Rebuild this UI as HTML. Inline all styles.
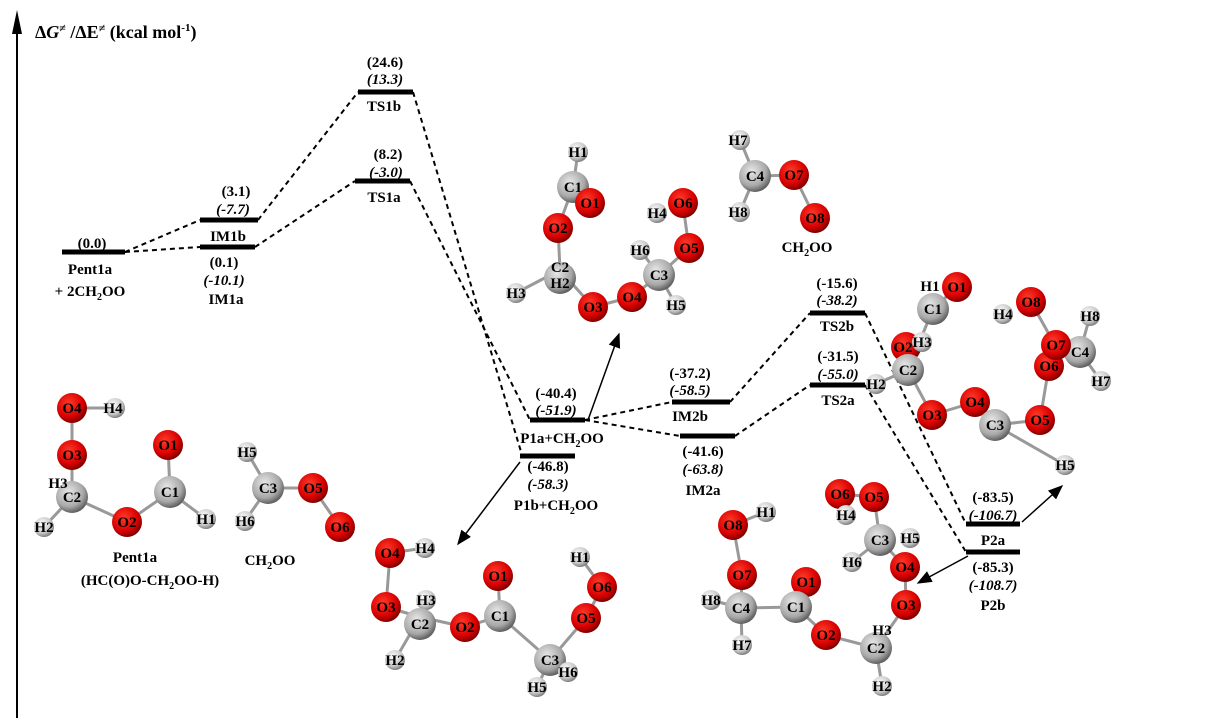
<!DOCTYPE html>
<html><head><meta charset="utf-8"><style>
html,body{margin:0;padding:0;background:#fff;}
svg{display:block;}
.t{font-family:"Liberation Serif",serif;font-weight:bold;font-size:15px;text-anchor:middle;fill:#000;}
.i{font-style:italic;}
.a{font-family:"Liberation Serif",serif;font-weight:bold;font-size:15px;text-anchor:middle;fill:#000;}
.d{stroke:#000;stroke-width:2;stroke-dasharray:5,4;fill:none;}
.lv{stroke:#000;stroke-width:5;}
.b{stroke:#999;stroke-width:3;}
</style></head><body>
<svg width="1229" height="726" viewBox="0 0 1229 726" xmlns="http://www.w3.org/2000/svg">
<defs>
<radialGradient id="gO" cx="40%" cy="35%" r="65%"><stop offset="0" stop-color="#ff3a2a"/><stop offset="0.7" stop-color="#d80000"/><stop offset="1" stop-color="#800000"/></radialGradient>
<radialGradient id="gC" cx="40%" cy="35%" r="65%"><stop offset="0" stop-color="#e8e8e8"/><stop offset="0.7" stop-color="#a8a8a8"/><stop offset="1" stop-color="#606060"/></radialGradient>
<radialGradient id="gH" cx="40%" cy="35%" r="65%"><stop offset="0" stop-color="#ffffff"/><stop offset="0.7" stop-color="#c8c8c8"/><stop offset="1" stop-color="#808080"/></radialGradient>
<marker id="ar" markerWidth="10" markerHeight="10" refX="9" refY="5" orient="auto"><path d="M0,1 L10,5 L0,9 Z" fill="#000"/></marker>
</defs>
<line x1="17" y1="718" x2="17" y2="22" stroke="#000" stroke-width="2"/>
<path d="M17,10 L12,34 L22,34 Z" fill="#000"/>
<text x="35" y="38" font-family="Liberation Serif,serif" font-weight="bold" font-size="18">Δ<tspan font-style="italic">G</tspan><tspan font-size="12" dy="-6">≠</tspan><tspan dy="6"> /ΔE</tspan><tspan font-size="12" dy="-6">≠</tspan><tspan dy="6">  (kcal mol</tspan><tspan font-size="11" dy="-7">-1</tspan><tspan dy="7">)</tspan></text>

<path class="d" d="M125,252 L200,220"/>
<path class="d" d="M125,252 L200,247"/>
<path class="d" d="M258,220 L358,92"/>
<path class="d" d="M255,247 L355,181"/>
<path class="d" d="M413,92 L522,455"/>
<path class="d" d="M410,181 L530,420"/>
<path class="d" d="M585,420 L672,402"/>
<path class="d" d="M585,420 L680,436"/>
<path class="d" d="M730,402 L810,313"/>
<path class="d" d="M735,436 L810,385"/>
<path class="d" d="M865,313 L966,524"/>
<path class="d" d="M865,385 L966,552"/>

<line class="lv" x1="62" y1="252" x2="125" y2="252"/>
<line class="lv" x1="200" y1="220" x2="258" y2="220"/>
<line class="lv" x1="200" y1="247" x2="255" y2="247"/>
<line class="lv" x1="358" y1="92" x2="413" y2="92"/>
<line class="lv" x1="355" y1="181" x2="410" y2="181"/>
<line class="lv" x1="530" y1="420" x2="585" y2="420"/>
<line class="lv" x1="520" y1="456" x2="575" y2="456"/>
<line class="lv" x1="672" y1="402" x2="730" y2="402"/>
<line class="lv" x1="680" y1="436" x2="735" y2="436"/>
<line class="lv" x1="810" y1="313" x2="865" y2="313"/>
<line class="lv" x1="810" y1="385" x2="865" y2="385"/>
<line class="lv" x1="966" y1="524" x2="1020" y2="524"/>
<line class="lv" x1="966" y1="552" x2="1020" y2="552"/>

<text class="t" x="92" y="248">(0.0)</text>
<text class="t" x="90" y="274">Pent1a</text>
<text class="t" x="90" y="296">+ 2CH<tspan font-size="10" dy="4">2</tspan><tspan dy="-4">OO</tspan></text>
<text class="t" x="236" y="196">(3.1)</text>
<text class="t i" x="233" y="214">(-7.7)</text>
<text class="t" x="228" y="241">IM1b</text>
<text class="t" x="224" y="267">(0.1)</text>
<text class="t i" x="224" y="285">(-10.1)</text>
<text class="t" x="226" y="304">IM1a</text>
<text class="t" x="385" y="67">(24.6)</text>
<text class="t i" x="385" y="84">(13.3)</text>
<text class="t" x="384" y="111">TS1b</text>
<text class="t" x="388" y="159">(8.2)</text>
<text class="t i" x="386" y="177">(-3.0)</text>
<text class="t" x="384" y="202">TS1a</text>
<text class="t" x="556" y="398">(-40.4)</text>
<text class="t i" x="556" y="415">(-51.9)</text>
<text class="t" x="562" y="443">P1a+CH<tspan font-size="10" dy="4">2</tspan><tspan dy="-4">OO</tspan></text>
<text class="t" x="548" y="471">(-46.8)</text>
<text class="t i" x="548" y="489">(-58.3)</text>
<text class="t" x="556" y="510">P1b+CH<tspan font-size="10" dy="4">2</tspan><tspan dy="-4">OO</tspan></text>
<text class="t" x="690" y="378">(-37.2)</text>
<text class="t i" x="690" y="395">(-58.5)</text>
<text class="t" x="690" y="421">IM2b</text>
<text class="t" x="703" y="456">(-41.6)</text>
<text class="t i" x="703" y="474">(-63.8)</text>
<text class="t" x="703" y="495">IM2a</text>
<text class="t" x="837" y="288">(-15.6)</text>
<text class="t i" x="837" y="305">(-38.2)</text>
<text class="t" x="837" y="331">TS2b</text>
<text class="t" x="838" y="361">(-31.5)</text>
<text class="t i" x="838" y="379">(-55.0)</text>
<text class="t" x="838" y="405">TS2a</text>
<text class="t" x="993" y="502">(-83.5)</text>
<text class="t i" x="993" y="520">(-106.7)</text>
<text class="t" x="993" y="545">P2a</text>
<text class="t" x="993" y="572">(-85.3)</text>
<text class="t i" x="993" y="590">(-108.7)</text>
<text class="t" x="993" y="610">P2b</text>

<line x1="588" y1="420" x2="619" y2="334" stroke="#000" stroke-width="1.5" marker-end="url(#ar)"/>
<line x1="520" y1="462" x2="458" y2="544" stroke="#000" stroke-width="1.5" marker-end="url(#ar)"/>
<line x1="1022" y1="522" x2="1062" y2="486" stroke="#000" stroke-width="1.5" marker-end="url(#ar)"/>
<line x1="968" y1="556" x2="918" y2="583" stroke="#000" stroke-width="1.5" marker-end="url(#ar)"/>

<g class="b">
<line x1="72" y1="408" x2="115" y2="408"/><line x1="72" y1="408" x2="72" y2="455"/><line x1="72" y1="455" x2="72" y2="497"/>
<line x1="72" y1="497" x2="44" y2="527"/><line x1="72" y1="497" x2="127" y2="522"/><line x1="127" y1="522" x2="170" y2="492"/>
<line x1="170" y1="492" x2="168" y2="445"/><line x1="170" y1="492" x2="206" y2="519"/>
<line x1="247" y1="452" x2="268" y2="488"/><line x1="268" y1="488" x2="313" y2="488"/><line x1="313" y1="488" x2="340" y2="527"/><line x1="268" y1="488" x2="245" y2="521"/>
<line x1="578" y1="152" x2="573" y2="187"/><line x1="573" y1="187" x2="558" y2="228"/><line x1="558" y1="228" x2="560" y2="270"/>
<line x1="560" y1="270" x2="516" y2="293"/><line x1="560" y1="270" x2="593" y2="307"/><line x1="593" y1="307" x2="632" y2="297"/>
<line x1="632" y1="297" x2="659" y2="275"/><line x1="659" y1="275" x2="676" y2="305"/><line x1="659" y1="275" x2="640" y2="250"/>
<line x1="659" y1="275" x2="689" y2="248"/><line x1="689" y1="248" x2="683" y2="205"/>
<line x1="740" y1="140" x2="755" y2="176"/><line x1="755" y1="176" x2="794" y2="175"/><line x1="794" y1="175" x2="815" y2="218"/><line x1="755" y1="176" x2="740" y2="212"/>
<line x1="933" y1="309" x2="957" y2="287"/><line x1="933" y1="309" x2="908" y2="370"/><line x1="908" y1="370" x2="876" y2="384"/>
<line x1="908" y1="370" x2="932" y2="415"/><line x1="932" y1="415" x2="975" y2="402"/><line x1="975" y1="402" x2="995" y2="425"/>
<line x1="995" y1="425" x2="1040" y2="420"/><line x1="1040" y1="420" x2="1049" y2="366"/><line x1="1031" y1="302" x2="1055" y2="345"/>
<line x1="1080" y1="352" x2="1090" y2="316"/><line x1="1080" y1="352" x2="1101" y2="381"/><line x1="995" y1="425" x2="1065" y2="465"/>
<line x1="390" y1="553" x2="425" y2="548"/><line x1="390" y1="553" x2="386" y2="607"/><line x1="386" y1="607" x2="420" y2="617"/>
<line x1="420" y1="617" x2="395" y2="660"/><line x1="420" y1="617" x2="465" y2="627"/><line x1="465" y1="627" x2="500" y2="616"/>
<line x1="500" y1="616" x2="498" y2="576"/><line x1="500" y1="616" x2="550" y2="660"/><line x1="550" y1="660" x2="537" y2="687"/>
<line x1="550" y1="660" x2="568" y2="672"/><line x1="550" y1="660" x2="586" y2="618"/><line x1="586" y1="618" x2="602" y2="587"/><line x1="602" y1="587" x2="580" y2="557"/>
<line x1="733" y1="525" x2="766" y2="512"/><line x1="733" y1="525" x2="742" y2="575"/><line x1="742" y1="575" x2="741" y2="608"/>
<line x1="741" y1="608" x2="711" y2="600"/><line x1="741" y1="608" x2="742" y2="645"/><line x1="741" y1="608" x2="796" y2="607"/>
<line x1="796" y1="607" x2="806" y2="582"/><line x1="796" y1="607" x2="826" y2="635"/><line x1="826" y1="635" x2="876" y2="648"/>
<line x1="876" y1="648" x2="882" y2="686"/><line x1="876" y1="648" x2="906" y2="605"/><line x1="906" y1="605" x2="905" y2="567"/>
<line x1="905" y1="567" x2="880" y2="540"/><line x1="880" y1="540" x2="852" y2="562"/><line x1="880" y1="540" x2="874" y2="497"/><line x1="874" y1="497" x2="840" y2="494"/>
</g>

<g>
<circle cx="72" cy="408" r="15" fill="url(#gO)"/><text class="a" x="72" y="413">O4</text>
<circle cx="115" cy="408" r="10" fill="url(#gH)"/><text class="a" x="113" y="413">H4</text>
<circle cx="72" cy="455" r="15" fill="url(#gO)"/><text class="a" x="72" y="460">O3</text>
<circle cx="72" cy="497" r="16" fill="url(#gC)"/><text class="a" x="72" y="502">C2</text>
<text class="a" x="58" y="488">H3</text>
<circle cx="44" cy="527" r="10" fill="url(#gH)"/><text class="a" x="44" y="532">H2</text>
<circle cx="127" cy="522" r="15" fill="url(#gO)"/><text class="a" x="127" y="527">O2</text>
<circle cx="170" cy="492" r="16" fill="url(#gC)"/><text class="a" x="170" y="497">C1</text>
<circle cx="168" cy="445" r="15" fill="url(#gO)"/><text class="a" x="168" y="450">O1</text>
<circle cx="206" cy="519" r="10" fill="url(#gH)"/><text class="a" x="206" y="524">H1</text>
<text class="t" x="135" y="562">Pent1a</text>
<text class="t" x="150" y="585">(HC(O)O-CH<tspan font-size="10" dy="4">2</tspan><tspan dy="-4">OO-H)</tspan></text>
</g>
<g>
<circle cx="247" cy="452" r="10" fill="url(#gH)"/><text class="a" x="247" y="457">H5</text>
<circle cx="268" cy="488" r="16" fill="url(#gC)"/><text class="a" x="268" y="493">C3</text>
<circle cx="313" cy="488" r="15" fill="url(#gO)"/><text class="a" x="313" y="493">O5</text>
<circle cx="340" cy="527" r="15" fill="url(#gO)"/><text class="a" x="340" y="532">O6</text>
<circle cx="245" cy="521" r="10" fill="url(#gH)"/><text class="a" x="245" y="526">H6</text>
<text class="t" x="270" y="565">CH<tspan font-size="10" dy="4">2</tspan><tspan dy="-4">OO</tspan></text>
</g>
<g>
<circle cx="578" cy="152" r="10" fill="url(#gH)"/><text class="a" x="578" y="157">H1</text>
<circle cx="573" cy="187" r="16" fill="url(#gC)"/><text class="a" x="573" y="192">C1</text>
<circle cx="590" cy="203" r="15" fill="url(#gO)"/><text class="a" x="590" y="208">O1</text>
<circle cx="558" cy="228" r="15" fill="url(#gO)"/><text class="a" x="558" y="233">O2</text>
<circle cx="560" cy="278" r="16" fill="url(#gC)"/><text class="a" x="560" y="272">C2</text><text class="a" x="560" y="288">H2</text>
<circle cx="516" cy="293" r="10" fill="url(#gH)"/><text class="a" x="516" y="298">H3</text>
<circle cx="593" cy="307" r="15" fill="url(#gO)"/><text class="a" x="593" y="312">O3</text>
<circle cx="632" cy="297" r="15" fill="url(#gO)"/><text class="a" x="632" y="302">O4</text>
<circle cx="659" cy="275" r="16" fill="url(#gC)"/><text class="a" x="659" y="280">C3</text>
<circle cx="676" cy="305" r="10" fill="url(#gH)"/><text class="a" x="676" y="310">H5</text>
<circle cx="640" cy="250" r="10" fill="url(#gH)"/><text class="a" x="640" y="255">H6</text>
<circle cx="689" cy="248" r="15" fill="url(#gO)"/><text class="a" x="689" y="253">O5</text>
<circle cx="657" cy="213" r="10" fill="url(#gH)"/><text class="a" x="657" y="218">H4</text>
<circle cx="683" cy="203" r="15" fill="url(#gO)"/><text class="a" x="683" y="208">O6</text>
</g>
<g>
<circle cx="740" cy="140" r="10" fill="url(#gH)"/><text class="a" x="738" y="145">H7</text>
<circle cx="755" cy="176" r="16" fill="url(#gC)"/><text class="a" x="755" y="181">C4</text>
<circle cx="794" cy="175" r="15" fill="url(#gO)"/><text class="a" x="794" y="180">O7</text>
<circle cx="815" cy="218" r="15" fill="url(#gO)"/><text class="a" x="815" y="223">O8</text>
<circle cx="740" cy="212" r="10" fill="url(#gH)"/><text class="a" x="738" y="217">H8</text>
<text class="t" x="807" y="252">CH<tspan font-size="10" dy="4">2</tspan><tspan dy="-4">OO</tspan></text>
</g>
<g>
<circle cx="957" cy="287" r="15" fill="url(#gO)"/><text class="a" x="957" y="292">O1</text>
<circle cx="933" cy="309" r="16" fill="url(#gC)"/><text class="a" x="933" y="314">C1</text>
<text class="a" x="930" y="291">H1</text>
<circle cx="906" cy="347" r="15" fill="url(#gO)"/><text class="a" x="903" y="352">O2</text>
<circle cx="922" cy="342" r="10" fill="url(#gH)"/><text class="a" x="922" y="347">H3</text>
<circle cx="908" cy="370" r="16" fill="url(#gC)"/><text class="a" x="908" y="375">C2</text>
<circle cx="876" cy="384" r="10" fill="url(#gH)"/><text class="a" x="876" y="389">H2</text>
<circle cx="932" cy="415" r="15" fill="url(#gO)"/><text class="a" x="932" y="420">O3</text>
<circle cx="975" cy="402" r="15" fill="url(#gO)"/><text class="a" x="975" y="407">O4</text>
<circle cx="995" cy="425" r="16" fill="url(#gC)"/><text class="a" x="995" y="430">C3</text>
<circle cx="1040" cy="420" r="15" fill="url(#gO)"/><text class="a" x="1040" y="425">O5</text>
<circle cx="1065" cy="465" r="10" fill="url(#gH)"/><text class="a" x="1065" y="470">H5</text>
<circle cx="1031" cy="302" r="15" fill="url(#gO)"/><text class="a" x="1031" y="307">O8</text>
<circle cx="1003" cy="314" r="10" fill="url(#gH)"/><text class="a" x="1003" y="319">H4</text>
<circle cx="1080" cy="352" r="16" fill="url(#gC)"/><text class="a" x="1080" y="357">C4</text>
<circle cx="1049" cy="366" r="15" fill="url(#gO)"/><text class="a" x="1049" y="371">O6</text>
<circle cx="1056" cy="345" r="15" fill="url(#gO)"/><text class="a" x="1056" y="350">O7</text>
<circle cx="1090" cy="316" r="10" fill="url(#gH)"/><text class="a" x="1090" y="321">H8</text>
<circle cx="1101" cy="381" r="10" fill="url(#gH)"/><text class="a" x="1101" y="386">H7</text>
</g>
<g>
<circle cx="390" cy="553" r="15" fill="url(#gO)"/><text class="a" x="390" y="558">O4</text>
<circle cx="425" cy="548" r="10" fill="url(#gH)"/><text class="a" x="425" y="553">H4</text>
<circle cx="386" cy="607" r="15" fill="url(#gO)"/><text class="a" x="386" y="612">O3</text>
<circle cx="426" cy="600" r="10" fill="url(#gH)"/><text class="a" x="426" y="605">H3</text>
<circle cx="420" cy="624" r="16" fill="url(#gC)"/><text class="a" x="420" y="629">C2</text>
<circle cx="395" cy="660" r="10" fill="url(#gH)"/><text class="a" x="395" y="665">H2</text>
<circle cx="465" cy="627" r="15" fill="url(#gO)"/><text class="a" x="465" y="632">O2</text>
<circle cx="500" cy="616" r="16" fill="url(#gC)"/><text class="a" x="500" y="621">C1</text>
<circle cx="498" cy="576" r="15" fill="url(#gO)"/><text class="a" x="498" y="581">O1</text>
<circle cx="550" cy="660" r="16" fill="url(#gC)"/><text class="a" x="550" y="665">C3</text>
<circle cx="537" cy="687" r="10" fill="url(#gH)"/><text class="a" x="537" y="692">H5</text>
<circle cx="568" cy="672" r="10" fill="url(#gH)"/><text class="a" x="568" y="677">H6</text>
<circle cx="586" cy="618" r="15" fill="url(#gO)"/><text class="a" x="586" y="623">O5</text>
<circle cx="602" cy="587" r="15" fill="url(#gO)"/><text class="a" x="602" y="592">O6</text>
<circle cx="580" cy="557" r="10" fill="url(#gH)"/><text class="a" x="580" y="562">H1</text>
</g>
<g>
<circle cx="733" cy="525" r="15" fill="url(#gO)"/><text class="a" x="733" y="530">O8</text>
<circle cx="766" cy="512" r="10" fill="url(#gH)"/><text class="a" x="766" y="517">H1</text>
<circle cx="742" cy="575" r="15" fill="url(#gO)"/><text class="a" x="742" y="580">O7</text>
<circle cx="711" cy="600" r="10" fill="url(#gH)"/><text class="a" x="711" y="605">H8</text>
<circle cx="741" cy="608" r="16" fill="url(#gC)"/><text class="a" x="741" y="613">C4</text>
<circle cx="742" cy="645" r="10" fill="url(#gH)"/><text class="a" x="742" y="650">H7</text>
<circle cx="806" cy="582" r="15" fill="url(#gO)"/><text class="a" x="806" y="587">O1</text>
<circle cx="796" cy="607" r="16" fill="url(#gC)"/><text class="a" x="796" y="612">C1</text>
<circle cx="826" cy="635" r="15" fill="url(#gO)"/><text class="a" x="826" y="640">O2</text>
<circle cx="876" cy="648" r="16" fill="url(#gC)"/><text class="a" x="876" y="653">C2</text>
<text class="a" x="882" y="635">H3</text>
<circle cx="882" cy="686" r="10" fill="url(#gH)"/><text class="a" x="882" y="691">H2</text>
<circle cx="906" cy="605" r="15" fill="url(#gO)"/><text class="a" x="906" y="610">O3</text>
<circle cx="905" cy="567" r="15" fill="url(#gO)"/><text class="a" x="905" y="572">O4</text>
<circle cx="880" cy="540" r="16" fill="url(#gC)"/><text class="a" x="880" y="545">C3</text>
<circle cx="910" cy="538" r="10" fill="url(#gH)"/><text class="a" x="910" y="543">H5</text>
<circle cx="852" cy="562" r="10" fill="url(#gH)"/><text class="a" x="852" y="567">H6</text>
<circle cx="874" cy="497" r="15" fill="url(#gO)"/><text class="a" x="874" y="502">O5</text>
<circle cx="840" cy="494" r="15" fill="url(#gO)"/><text class="a" x="840" y="499">O6</text>
<circle cx="846" cy="515" r="10" fill="url(#gH)"/><text class="a" x="846" y="520">H4</text>
</g>
</svg>
</body></html>
